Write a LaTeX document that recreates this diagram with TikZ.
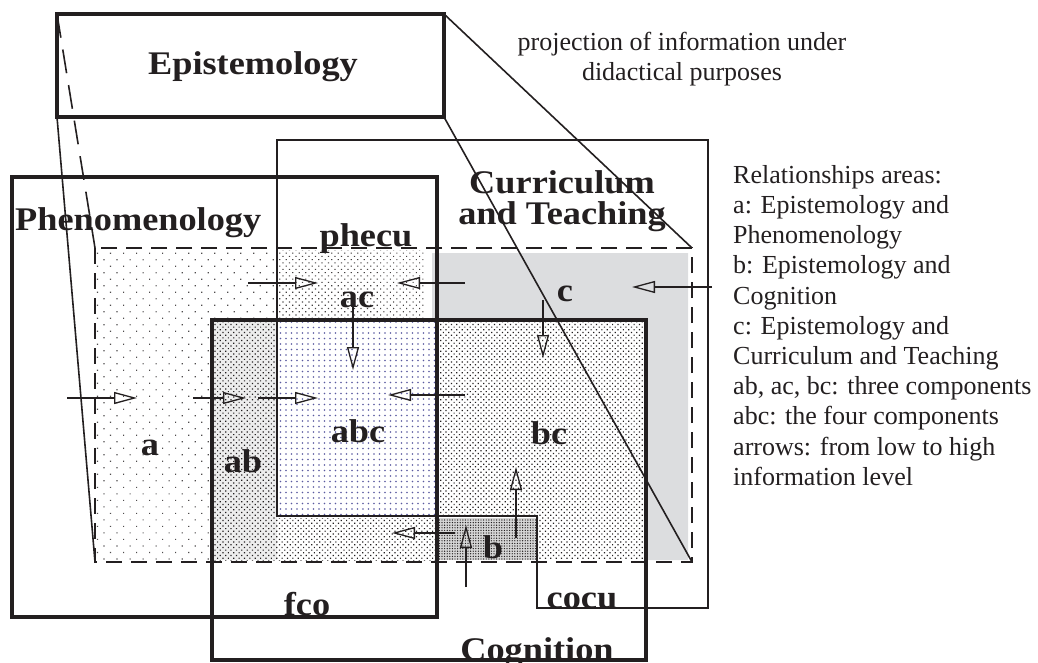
\documentclass[tikz,border=0pt]{standalone}
\usepackage{fontspec}
\setmainfont{Liberation Serif}
\newfontfamily\figbold[FakeStretch=1.1]{Liberation Serif}
\usetikzlibrary{arrows.meta, patterns.meta}
\definecolor{FigInk}{HTML}{231F20}
\definecolor{CurrGray}{HTML}{DCDDDF}
\definecolor{AbcDot}{HTML}{5A5AA0}
\definecolor{AbShade}{HTML}{EDEDED}
\definecolor{BShade}{HTML}{D6D6D6}

\begin{document}
\begin{tikzpicture}[
  x=1pt, y=-1pt,
  heavy/.style={draw=FigInk, line width=4pt},
  frame/.style={draw=FigInk, line width=2pt},
  proj/.style={draw=FigInk, line width=1.6pt},
  flow/.style={
    draw=FigInk,
    line width=1.3pt,
    -{Triangle[open, length=23pt, width=12pt]},
  },
  lbl/.style={
    font=\figbold\bfseries\fontsize{33}{31}\selectfont,
    text=FigInk,
    inner sep=0pt,
    anchor=base,
  },
  note/.style={
    font=\fontsize{26}{30.2}\selectfont,
    text=FigInk,
    inner sep=0pt,
  },
  sparse/.style={pattern={Dots[distance=9.2pt, angle=45, radius=0.85pt]}, pattern color=FigInk!80},
  medium/.style={pattern={Dots[distance=4.6pt, angle=45, radius=0.8pt]}, pattern color=FigInk!85},
  dense/.style={pattern={Dots[distance=3.8pt, angle=45, radius=0.85pt]}, pattern color=FigInk},
]
  \useasboundingbox (0,0) rectangle (1038,663);

  % corners of the boxes
  \coordinate (eNW) at (57,14);
  \coordinate (eNE) at (444,14);
  \coordinate (eSW) at (57,117);
  \coordinate (eSE) at (444,117);
  \coordinate (dNW) at (95,248);
  \coordinate (dNE) at (692,248);
  \coordinate (dSW) at (95,562);
  \coordinate (dSE) at (692,562);

  % relationship areas
  \fill[sparse] (95,250) -- (277,250) -- (277,320) -- (212,320) -- (212,560) -- (95,560) -- cycle;
  \fill[medium] (279,250) rectangle (425,318);
  \fill[CurrGray] (432,253) -- (688,253) -- (688,560) -- (646,560) -- (646,320) -- (432,320) -- cycle;
  \fill[AbShade, postaction={dense}] (214,322) rectangle (277,560);
  \fill[pattern={Dots[distance=5.5pt, radius=0.8pt]}, pattern color=AbcDot] (279,322) rectangle (435,514);
  \fill[dense] (277,518) rectangle (437,560);
  \fill[dense] (439,322) -- (644,322) -- (644,560) -- (537,560) -- (537,516) -- (439,516) -- cycle;
  \fill[BShade, postaction={pattern={Dots[distance=2.6pt, radius=0.7pt]}, pattern color=FigInk}]
    (439,518) rectangle (537,560);

  \draw[FigInk, line width=2.4pt, dash pattern=on 16pt off 9pt] (dNW) rectangle (dSE);
  \draw[frame] (277,140) -- (708,140) -- (708,608) -- (537,608) -- (537,516) -- (277,516) -- cycle;
  \draw[heavy] (12,177) rectangle (437,617);
  \draw[heavy] (212,320) rectangle (646,660);
  \draw[heavy] (eNW) rectangle (eSE);

  % projection
  \draw[proj] (eNE) -- (dNE);
  \draw[proj] (eSE) -- (dSE);
  \draw[proj] (eSW) -- (dSW);
  \draw[proj, dash pattern=on 24pt off 12pt] (eNW) -- (dNW);

  % arrows, low to high information level
  \coordinate (inA) at (67,398);    \coordinate (atA) at (137,398);
  \coordinate (fromA) at (193,398); \coordinate (atAB) at (246,398);
  \coordinate (fromAB) at (258,398);\coordinate (atABC) at (318,398);
  \coordinate (fromBC) at (465,395);\coordinate (atABCr) at (388,395);
  \coordinate (fromAt) at (248,283);\coordinate (atAC) at (318,283);
  \coordinate (fromC) at (465,283); \coordinate (atACr) at (397,283);
  \coordinate (fromAC) at (353,303);\coordinate (atABCt) at (353,370);
  \coordinate (fromB) at (455,533); \coordinate (atABb) at (392,533);
  \coordinate (inB) at (466,587);   \coordinate (atB) at (466,525);
  \coordinate (fromBu) at (516,538);\coordinate (atBC) at (516,467);
  \coordinate (fromCd) at (543,300);\coordinate (atBCt) at (543,358);
  \coordinate (inC) at (712,287);   \coordinate (atC) at (632,287);

  \draw[flow] (inA) -- (atA);
  \draw[flow] (fromA) -- (atAB);
  \draw[flow] (fromAB) -- (atABC);
  \draw[flow] (fromBC) -- (atABCr);
  \draw[flow] (fromAt) -- (atAC);
  \draw[flow] (fromC) -- (atACr);
  \draw[flow] (fromAC) -- (atABCt);
  \draw[flow] (fromB) -- (atABb);
  \draw[flow] (inB) -- (atB);
  \draw[flow] (fromBu) -- (atBC);
  \draw[flow] (fromCd) -- (atBCt);
  \draw[flow] (inC) -- (atC);

  % labels
  \node[lbl] (epi) at (253,75) {Epistemology};
  \node[lbl, anchor=base west] (phen) at (15,230) {Phenomenology};
  \node[lbl, align=center, anchor=north] (curr) at (562,170) {Curriculum\\and Teaching};
  \node[lbl] (phecu) at (366,246) {phecu};
  \node[lbl] (ac) at (357,307) {ac};
  \node[lbl] (a) at (150,455) {a};
  \node[lbl] (ab) at (243,472) {ab};
  \node[lbl] (abc) at (358,442) {abc};
  \node[lbl] (bc) at (549,444) {bc};
  \node[lbl] (c) at (565,301) {c};
  \node[lbl] (b) at (493,558) {b};
  \node[lbl] (fco) at (307,615) {fco};
  \node[lbl] (cocu) at (582,608) {cocu};
  \node[lbl] (cog) at (537,660) {Cognition};

  \node[note, align=center, anchor=north] (projtxt) at (682,32)
    {projection of information under\\didactical purposes};
  \node[note, align=left, anchor=north west] (key) at (733,165)
    {Relationships areas:\\a: Epistemology and\\Phenomenology\\b: Epistemology and\\Cognition\\c: Epistemology and\\Curriculum and Teaching\\ab, ac, bc: three components\\abc: the four components\\arrows: from low to high\\information level};
\end{tikzpicture}
\end{document}
